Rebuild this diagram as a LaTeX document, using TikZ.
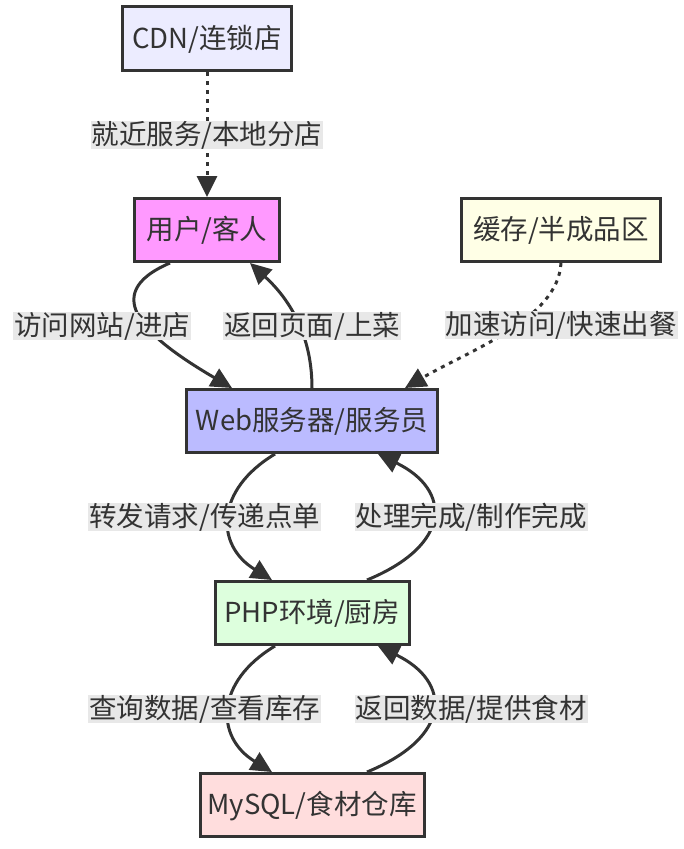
\documentclass[tikz,border=0pt]{standalone}
\usepackage{fontspec}
\setmainfont{Noto Sans CJK SC}
\usetikzlibrary{positioning,arrows.meta}
\definecolor{ink}{HTML}{333333}
\definecolor{cdnc}{HTML}{ECECFF}
\definecolor{userc}{HTML}{FF99FF}
\definecolor{cachec}{HTML}{FFFFE6}
\definecolor{webc}{HTML}{BBBBFF}
\definecolor{phpc}{HTML}{DDFFDD}
\definecolor{dbc}{HTML}{FFDDDD}
\definecolor{lblc}{HTML}{E8E8E8}

\begin{document}
\begin{tikzpicture}[x=1pt, y=-1pt, node distance={125pt}, line width=3pt, color=ink,
        font=\fontsize{27.5}{32}\selectfont, >={Triangle[length=21pt,width=20pt]},
        main/.style = {draw, rectangle, minimum height=63pt, text height=23pt, text depth=4pt},
        lbl/.style = {fill=lblc, inner xsep=1pt, inner ysep=0.5pt, text height=23pt, text depth=4pt},
        dots/.style = {dash pattern=on 4pt off 5pt}]
        \useasboundingbox (0,0) rectangle (684,849);

        \node[main, fill=userc, minimum width=145pt] (user) at (207,230) {用户/客人};
        \node[main, fill=cdnc, minimum width=169pt, minimum height=64pt] (cdn) [above=of user] {CDN/连锁店};
        \node[main, fill=cachec, minimum width=199pt] (cache) [right=179pt of user] {缓存/半成品区};
        \node[main, fill=webc, minimum width=251pt] (web) at (312,421) {Web服务器/服务员};
        \node[main, fill=phpc, minimum width=194pt] (php) [below=126pt of web] {PHP环境/厨房};
        \node[main, fill=dbc, minimum width=224pt] (db) [below=126pt of php] {MySQL/食材仓库};

        \draw[dots, ->] (cdn) -- node[lbl] {就近服务/本地分店} (user);
        \draw[->] ([xshift=-37pt]user.south) .. controls +(-75,32) and +(-82,-48) .. ([xshift=-80pt]web.north) node[lbl, pos=0.5, xshift=-40pt, yshift=-6pt] {访问网站/进店};
        \draw[->] (web.north) .. controls +(0,-58) and +(35,32) .. ([xshift=43pt]user.south) node[lbl, pos=0.5, xshift=18pt, yshift=-10pt] {返回页面/上菜};
        \draw[dots, ->] (cache.south) .. controls +(-3,56) and +(65,-38) .. ([xshift=93pt]web.north) node[lbl, pos=0.5, xshift=55pt, yshift=7pt] {加速访问/快速出餐};
        \draw[->] ([xshift=-37pt]web.south) .. controls +(-60,36) and +(-57,-35) .. ([xshift=-40pt]php.north) node[lbl, pos=0.5, xshift=-25pt] {转发请求/传递点单};
        \draw[->] ([xshift=55pt]php.north) .. controls +(85,-35) and +(74,36) .. ([xshift=66pt]web.south) node[lbl, pos=0.5, xshift=39pt] {处理完成/制作完成};
        \draw[->] ([xshift=-37pt]php.south) .. controls +(-60,36) and +(-57,-35) .. ([xshift=-40pt]db.north) node[lbl, pos=0.5, xshift=-25pt] {查询数据/查看库存};
        \draw[->] ([xshift=55pt]db.north) .. controls +(85,-35) and +(74,36) .. ([xshift=66pt]php.south) node[lbl, pos=0.5, xshift=39pt] {返回数据/提供食材};

    \end{tikzpicture}
\end{document}
